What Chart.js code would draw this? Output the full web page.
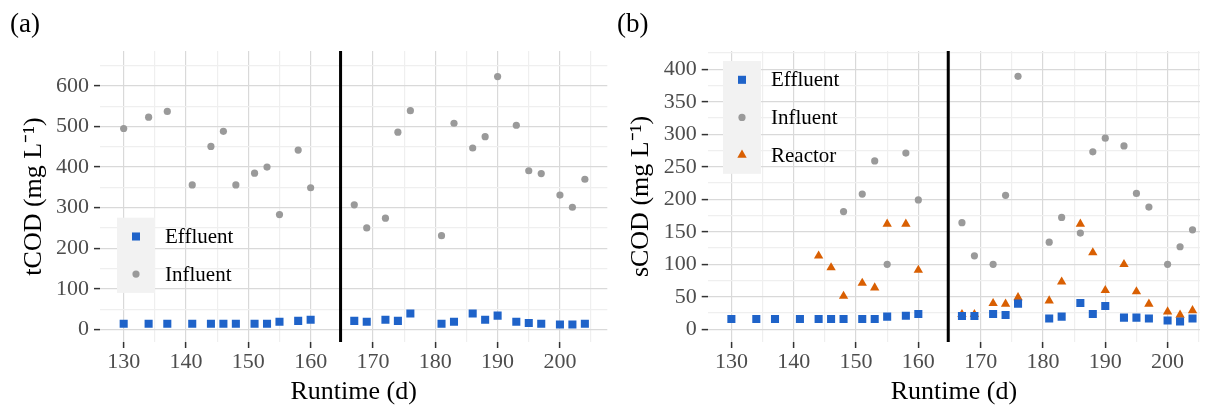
<!DOCTYPE html>
<html lang="en">
<head>
<meta charset="UTF-8">
<title>COD over runtime</title>
<script src="https://cdn.jsdelivr.net/npm/chart.js@4/dist/chart.umd.min.js"></script>
<style>
  body { margin: 0; background: #fff; }
  #wrap { position: relative; width: 1206px; height: 405px; }
  canvas { position: absolute; top: 0; }
</style>
</head>
<body>
<div id="wrap">
  <canvas id="tcod" width="613" height="405" style="left:0"></canvas>
  <canvas id="scod" width="593" height="405" style="left:613px"></canvas>
</div>

<script>
    // runtime days (same for both panels)
    const days = [130, 134, 137, 141, 144, 146, 148, 151, 153, 155, 158, 160,
                  167, 169, 172, 174, 176, 181, 183, 186, 188, 190, 193, 195, 197, 200, 202, 204];

    // (a) total COD, mg/L
    const tcodEffluent = [14, 14, 14, 14, 14, 14, 14, 14, 14, 19, 21, 24,
                          21, 19, 24, 21, 39, 14, 19, 39, 24, 34, 19, 16, 14, 12, 12, 14];
    const tcodInfluent = [495, 523, 537, 356, 451, 488, 356, 385, 400, 283, 442, 349,
                          307, 250, 274, 486, 539, 231, 508, 447, 475, 623, 503, 391, 384, 331, 301, 370];

    // (b) soluble COD, mg/L (null = not measured)
    const scodEffluent = [16, 16, 16, 16, 16, 16, 16, 16, 16, 19.5, 21, 23.5,
                          20.5, 20.5, 23.5, 22, 39.5, 16.5, 19.5, 40.5, 23.5, 36, 18, 18, 16.5, 13.5, 12, 16.5];
    const scodInfluent = [null, null, null, null, null, null, 181, 208, 259, 100, 271, 199,
                          164, 113, 100, 206, 389, 134, 172, 148, 273, 294, 282, 209, 188, 100, 127, 153];
    const scodReactor  = [null, null, null, null, 113, 95, 51, 71, 64, 162, 162, 91,
                          23, 23, 40, 39, 49, 44, 73, 162, 118, 60, 100, 58, 39, 27, 22, 29];

    const cutDay = 164.8;
    const xTicks = [130, 135, 140, 145, 150, 155, 160, 165, 170, 175, 180, 185, 190, 195, 200, 205];
    const tcodTicks = [0, 50, 100, 150, 200, 250, 300, 350, 400, 450, 500, 550, 600, 650];
    const scodTicks = [0, 25, 50, 75, 100, 125, 150, 175, 200, 225, 250, 275, 300, 325, 350, 375, 400, 425];

    const serif = "'Liberation Serif', 'Times New Roman', serif";
    const BLUE = '#1f63c9', GREY = '#9a9a9a', ORANGE = '#d95f02';

    function pts(vals) {
        return days.map((d, i) => ({x: d, y: vals[i]})).filter(p => p.y !== null);
    }

    function series(label, vals, color, style, r) {
        return {
            label: label,
            data: pts(vals),
            pointStyle: style,
            pointRadius: r,
            pointBackgroundColor: color,
            pointBorderColor: color,
            pointBorderWidth: 0
        };
    }

    // vertical separator line + panel tag + in-panel legend
    const decor = {
        id: 'decor',
        beforeDatasetsDraw(chart, args, opts) {
            const {ctx, chartArea} = chart;
            const x = chart.scales.x.getPixelForValue(cutDay);
            ctx.save();
            ctx.strokeStyle = '#000';
            ctx.lineWidth = 3;
            ctx.beginPath();
            ctx.moveTo(x, chartArea.top);
            ctx.lineTo(x, chartArea.bottom);
            ctx.stroke();
            ctx.restore();
        },
        afterDraw(chart, args, opts) {
            const {ctx, chartArea} = chart;
            ctx.save();
            ctx.fillStyle = '#000';
            ctx.font = '27px ' + serif;
            ctx.textBaseline = 'alphabetic';
            ctx.fillText(opts.tag, opts.tagX, 32);

            const sets = chart.data.datasets;
            const bx = chartArea.left + opts.dx, by = chartArea.top + opts.dy;
            const gap = 37.6;
            ctx.fillStyle = '#f2f2f2';
            ctx.fillRect(bx, by, 38, gap * sets.length);
            sets.forEach((ds, i) => {
                const cy = by + gap * (i + 0.5);
                ctx.fillStyle = ds.pointBackgroundColor;
                Chart.helpers.drawPoint(ctx, {pointStyle: ds.pointStyle, radius: ds.pointRadius, rotation: 0, borderWidth: 0}, bx + 19, cy);
                ctx.fillStyle = '#000';
                ctx.font = '21px ' + serif;
                ctx.textBaseline = 'middle';
                ctx.fillText(ds.label, bx + 48, cy + 1);
            });
            ctx.restore();
        }
    };

    function axes(yTicks, yMin, yMax, major, yTitle, yWidth, titlePad, xMax) {
        const gridColor = ctx => ctx.tick && ctx.tick.value % major === 0 ? '#d9d9d9' : '#efefef';
        const tickColor = ctx => ctx.tick && ctx.tick.value % major === 0 ? '#333' : 'rgba(0,0,0,0)';
        const xGrid = ctx => ctx.tick && ctx.tick.value % 10 === 0 ? '#d9d9d9' : '#efefef';
        const xTickColor = ctx => ctx.tick && ctx.tick.value % 10 === 0 ? '#333' : 'rgba(0,0,0,0)';
        return {
            x: {
                type: 'linear',
                min: 126.2,
                max: xMax,
                afterBuildTicks: a => { a.ticks = xTicks.map(v => ({value: v})); },
                afterFit: a => { a.height = 63; },
                border: {display: false},
                grid: {color: xGrid, lineWidth: 1.2, tickColor: xTickColor, tickLength: 6, tickWidth: 1.5},
                ticks: {
                    font: {family: serif, size: 22},
                    color: '#4d4d4d',
                    padding: 1,
                    maxRotation: 0,
                    autoSkip: false,
                    callback: v => v % 10 === 0 ? String(v) : ''
                },
                title: {display: true, text: 'Runtime (d)', color: '#000',
                        font: {family: serif, size: 26, lineHeight: 1}, padding: {top: 0, bottom: 0}}
            },
            y: {
                type: 'linear',
                min: yMin,
                max: yMax,
                afterBuildTicks: a => { a.ticks = yTicks.map(v => ({value: v})); },
                afterFit: a => { a.width = yWidth; },
                border: {display: false},
                grid: {color: gridColor, lineWidth: 1.2, tickColor: tickColor, tickLength: 6, tickWidth: 1.5},
                ticks: {
                    font: {family: serif, size: 22},
                    color: '#4d4d4d',
                    padding: 5,
                    autoSkip: false,
                    callback: v => v % major === 0 ? String(v) : ''
                },
                title: {display: true, text: yTitle, color: '#000',
                        font: {family: serif, size: 26, lineHeight: 1}, padding: {top: titlePad, bottom: 0}}
            }
        };
    }

    function baseOptions(scales, decorOpts, padRight) {
        return {
            responsive: false,
            animation: false,
            events: [],
            layout: {padding: {top: 51, right: padRight, bottom: 0, left: 0}},
            scales: scales,
            plugins: {legend: {display: false}, tooltip: {enabled: false}, decor: decorOpts}
        };
    }

    new Chart('tcod', {
        type: 'scatter',
        data: {
            datasets: [
                series('Effluent', tcodEffluent, BLUE, 'rect', 5.7),
                series('Influent', tcodInfluent, GREY, 'circle', 3.6)
            ]
        },
        options: baseOptions(axes(tcodTicks, -31, 686, 100, 'tCOD (mg L\u207B\u00B9)', 100, 21, 207.6),
                             {tag: '(a)', tagX: 10, dx: 17, dy: 166.7}, 2.3),
        plugins: [decor]
    });

    new Chart('scod', {
        type: 'scatter',
        data: {
            datasets: [
                series('Effluent', scodEffluent, BLUE, 'rect', 5.7),
                series('Influent', scodInfluent, GREY, 'circle', 3.6),
                series('Reactor', scodReactor, ORANGE, 'triangle', 5.4)
            ]
        },
        options: baseOptions(axes(scodTicks, -19.5, 428, 50, 'sCOD (mg L\u207B\u00B9)', 94.7, 15, 205.2),
                             {tag: '(b)', tagX: 4, dx: 15.3, dy: 10}, 6),
        plugins: [decor]
    });
</script>
</body>
</html>
